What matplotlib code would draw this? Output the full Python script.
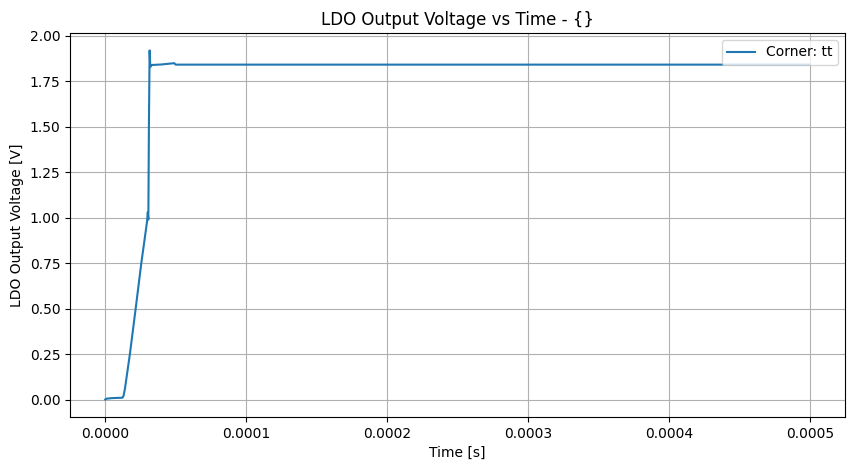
import matplotlib
matplotlib.use("Agg")
import matplotlib.pyplot as plt

time_s = [0.0, 1.0e-6, 5.0e-6, 1.22e-5, 1.3e-5, 1.4e-5, 1.75e-5, 2.16e-5, 2.56e-5,
          2.97e-5, 3.02e-5, 3.06e-5, 3.1e-5, 3.15e-5, 3.2e-5, 3.3e-5,
          4.0e-5, 4.9e-5, 5.0e-5, 1.0e-4, 2.0e-4, 3.0e-4, 4.0e-4, 5.0e-4]
vout_v = [0.0, 0.005, 0.008, 0.01, 0.02, 0.06, 0.25, 0.5, 0.75,
          0.98, 1.03, 0.99, 1.5, 1.92, 1.83, 1.84,
          1.843, 1.85, 1.842, 1.842, 1.842, 1.842, 1.842, 1.842]
corner = "tt"

fig = plt.figure(figsize=(8.55, 4.7), dpi=100)
ax = fig.add_axes([70/855, 1-417/470, 775/855, 384/470])
ax.plot(time_s, vout_v, label=f"Corner: {corner}")
ax.set_title("LDO Output Voltage vs Time - {}")
ax.set_xlabel("Time [s]")
ax.set_ylabel("LDO Output Voltage [V]")
ax.grid(True)
ax.legend(loc="upper right")
fig.savefig("out.png", dpi=100)
